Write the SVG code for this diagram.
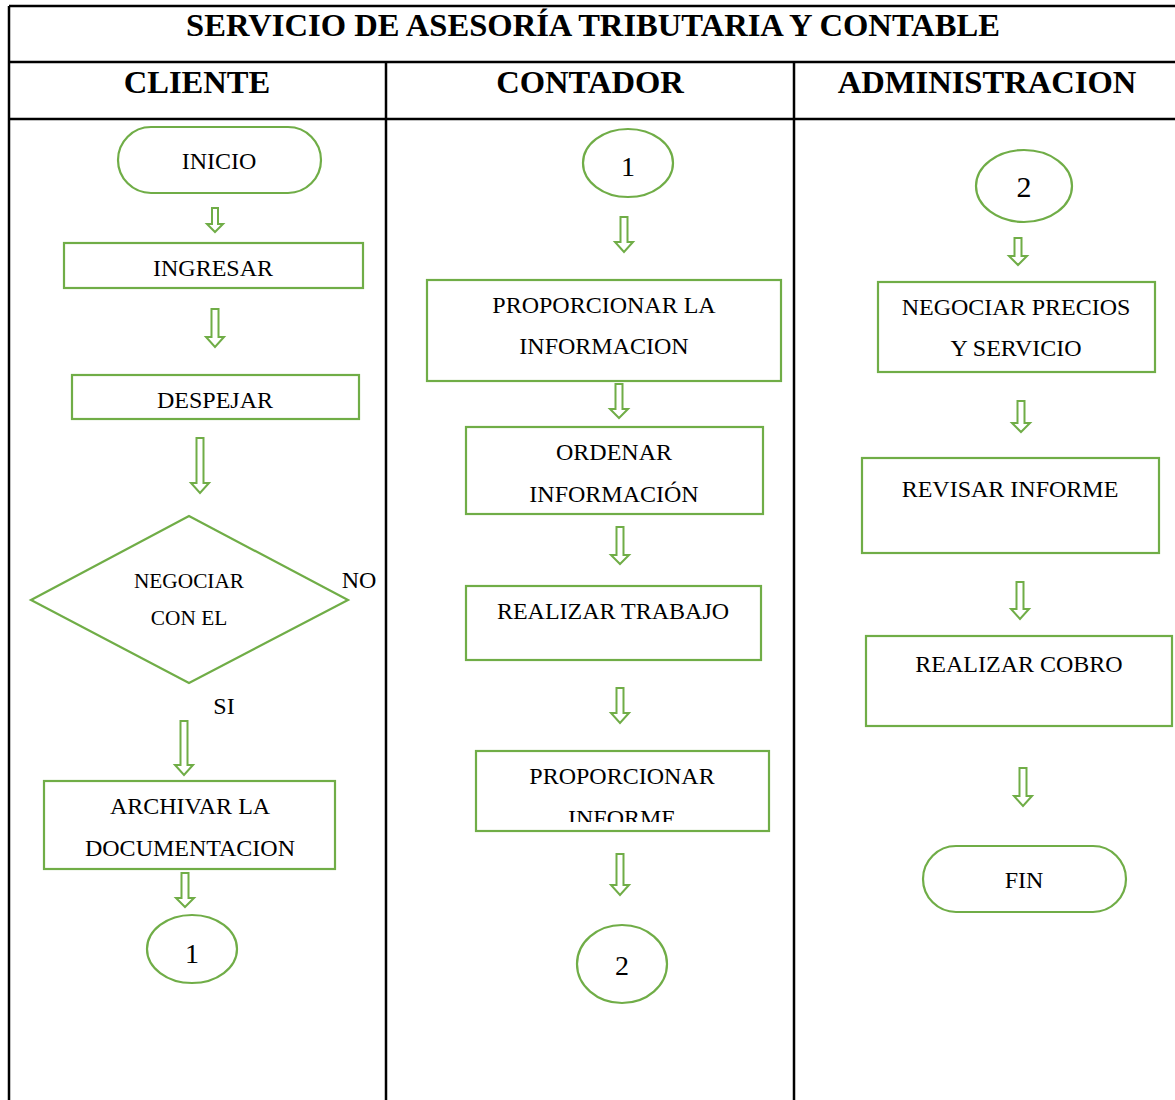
<svg xmlns="http://www.w3.org/2000/svg" width="1175" height="1100" viewBox="0 0 1175 1100">
<style>
.grid{stroke:#000;stroke-width:2.5;fill:none}
.title{font-family:"Liberation Serif",serif;font-weight:bold;font-size:32.6px;fill:#000;text-anchor:middle}
.n{fill:#fff;stroke:#70AD47;stroke-width:2.2}
.t{font-family:"Liberation Serif",serif;font-size:24px;fill:#000;text-anchor:middle}
.ts{font-family:"Liberation Serif",serif;font-size:21.3px;fill:#000;text-anchor:middle}
.num{font-family:"Liberation Serif",serif;font-size:28px;fill:#000;text-anchor:middle}
.ar{fill:#fff;stroke:#70AD47;stroke-width:2}
</style>
<defs>
<clipPath id="clipInf"><rect x="476" y="751" width="293" height="71"/></clipPath>
</defs>
<rect width="1175" height="1100" fill="#fff"/>
<g id="table">
<line class="grid" x1="9" y1="6" x2="1175" y2="6"/>
<line class="grid" x1="9" y1="62" x2="1175" y2="62"/>
<line class="grid" x1="9" y1="119" x2="1175" y2="119"/>
<line class="grid" x1="9" y1="6" x2="9" y2="1100"/>
<line class="grid" x1="386" y1="62" x2="386" y2="1100"/>
<line class="grid" x1="794" y1="62" x2="794" y2="1100"/>
<text class="title" x="593" y="36">SERVICIO DE ASESORÍA TRIBUTARIA Y CONTABLE</text>
<text class="title" x="197" y="93">CLIENTE</text>
<text class="title" x="590" y="93">CONTADOR</text>
<text class="title" x="987" y="93">ADMINISTRACION</text>
</g>
<g id="connectors">
<path class="ar" d="M212,208 H218 V224 H223 L215,232 L207,224 H212 Z"/>
<path class="ar" d="M211.5,309 H218.5 V337 H224 L215,347 L206,337 H211.5 Z"/>
<path class="ar" d="M196.5,438 H203.5 V483 H209 L200,493 L191,483 H196.5 Z"/>
<path class="ar" d="M180.5,721 H187.5 V765 H193 L184,775 L175,765 H180.5 Z"/>
<path class="ar" d="M181.5,873 H188.5 V898 H194 L185,907 L176,898 H181.5 Z"/>
<path class="ar" d="M620.5,217 H627.5 V242 H633 L624,252 L615,242 H620.5 Z"/>
<path class="ar" d="M615.5,384 H622.5 V409 H628 L619,418 L610,409 H615.5 Z"/>
<path class="ar" d="M616.5,527 H623.5 V555 H629 L620,564 L611,555 H616.5 Z"/>
<path class="ar" d="M616.5,688 H623.5 V713 H629 L620,723 L611,713 H616.5 Z"/>
<path class="ar" d="M616.5,854 H623.5 V885 H629 L620,895 L611,885 H616.5 Z"/>
<path class="ar" d="M1014.5,238 H1021.5 V256 H1027 L1018,265 L1009,256 H1014.5 Z"/>
<path class="ar" d="M1017.5,401 H1024.5 V423 H1030 L1021,432 L1012,423 H1017.5 Z"/>
<path class="ar" d="M1016.5,582 H1023.5 V609 H1029 L1020,619 L1011,609 H1016.5 Z"/>
<path class="ar" d="M1019.5,768 H1026.5 V796 H1032 L1023,806 L1014,796 H1019.5 Z"/>
</g>
<g id="inicio"><rect class="n" x="118" y="127" width="203" height="66" rx="33"/><text class="t" x="219" y="169">INICIO</text></g>
<g id="ingresar"><rect class="n" x="64" y="243" width="299" height="45"/><text class="t" x="213" y="276">INGRESAR</text></g>
<g id="despejar"><rect class="n" x="72" y="375" width="287" height="44"/><text class="t" x="215" y="408">DESPEJAR</text></g>
<g id="negociar"><polygon class="n" points="31,600 189,516 348,600 189,683"/><text class="ts" x="189" y="588">NEGOCIAR</text><text class="ts" x="189" y="625">CON EL</text></g>
<g id="labels"><text class="t" x="359" y="588">NO</text><text class="t" x="224" y="714">SI</text></g>
<g id="archivar"><rect class="n" x="44" y="781" width="291" height="88"/><text class="t" x="190" y="814">ARCHIVAR LA</text><text class="t" x="190" y="856">DOCUMENTACION</text></g>
<g id="con1a"><ellipse class="n" cx="192" cy="949" rx="45" ry="34"/><text class="num" x="192" y="963">1</text></g>
<g id="con1b"><ellipse class="n" cx="628" cy="163" rx="45" ry="34"/><text class="num" x="628" y="176">1</text></g>
<g id="proporcionar-info"><rect class="n" x="427" y="280" width="354" height="101"/><text class="t" x="604" y="313">PROPORCIONAR LA</text><text class="t" x="604" y="354">INFORMACION</text></g>
<g id="ordenar"><rect class="n" x="466" y="427" width="297" height="87"/><text class="t" x="614" y="460">ORDENAR</text><text class="t" x="614" y="502">INFORMACIÓN</text></g>
<g id="realizar-trabajo"><rect class="n" x="466" y="586" width="295" height="74"/><text class="t" x="613" y="619">REALIZAR TRABAJO</text></g>
<g id="proporcionar-informe"><rect class="n" x="476" y="751" width="293" height="80"/><text class="t" x="622" y="784">PROPORCIONAR</text><text class="t" x="622" y="826" clip-path="url(#clipInf)">INFORME</text></g>
<g id="con2a"><ellipse class="n" cx="622" cy="964" rx="45" ry="39"/><text class="num" x="622" y="975">2</text></g>
<g id="con2b"><ellipse class="n" cx="1024" cy="186" rx="48" ry="36"/><text class="num" x="1024" y="197" style="font-size:30px">2</text></g>
<g id="negociar-precios"><rect class="n" x="878" y="282" width="277" height="90"/><text class="t" x="1016" y="315">NEGOCIAR PRECIOS</text><text class="t" x="1016" y="356">Y SERVICIO</text></g>
<g id="revisar"><rect class="n" x="862" y="458" width="297" height="95"/><text class="t" x="1010" y="497">REVISAR INFORME</text></g>
<g id="cobro"><rect class="n" x="866" y="636" width="306" height="90"/><text class="t" x="1019" y="672">REALIZAR COBRO</text></g>
<g id="fin"><rect class="n" x="923" y="846" width="203" height="66" rx="33"/><text class="t" x="1024" y="888">FIN</text></g>
</svg>
